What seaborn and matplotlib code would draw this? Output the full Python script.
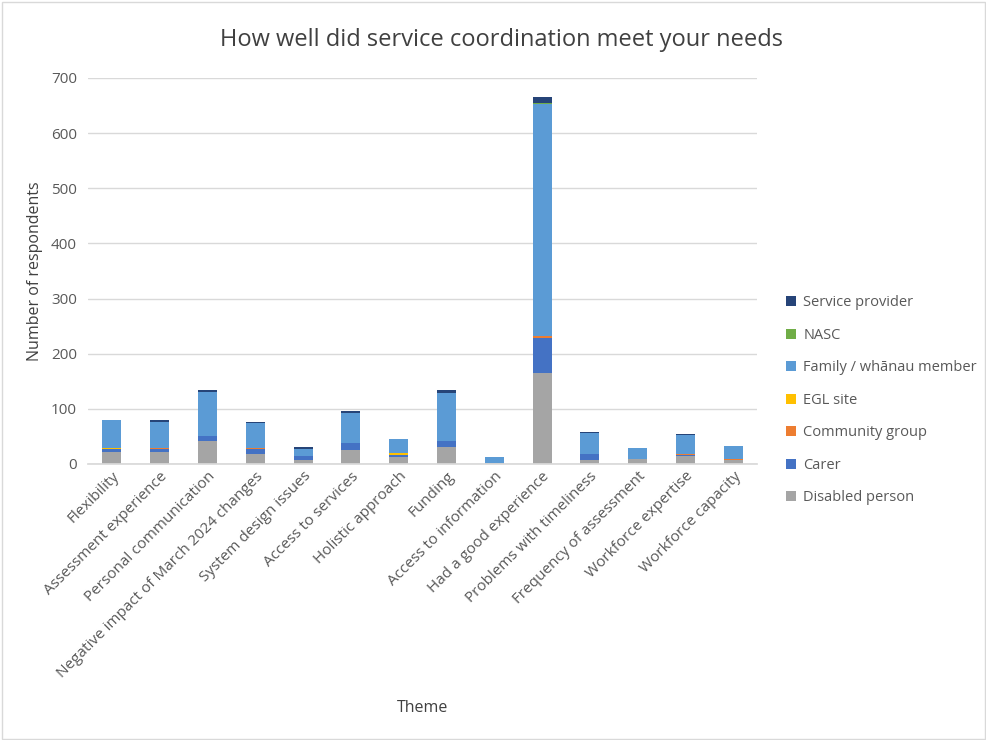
import matplotlib
matplotlib.use("Agg")
import matplotlib.pyplot as plt
import numpy as np
import pandas as pd
import seaborn as sns
from matplotlib.patches import Rectangle, Patch

themes = [
    "Flexibility", "Assessment experience", "Personal communication",
    "Negative impact of March 2024 changes", "System design issues",
    "Access to services", "Holistic approach", "Funding",
    "Access to information", "Had a good experience",
    "Problems with timeliness", "Frequency of assessment",
    "Workforce expertise", "Workforce capacity",
]

disabled_person = [22, 21, 41, 18, 8, 26, 13, 30, 1, 165, 8, 9, 14, 8]
carer = [6, 6, 10, 9, 6, 12, 4, 11, 0, 64, 10, 0, 3, 0]
community_group = [0, 2, 0, 2, 0, 0, 0, 0, 0, 4, 0, 0, 2, 1]
egl_site = [1, 0, 0, 0, 0, 0, 3, 0, 0, 0, 0, 0, 0, 0]
family_whanau = [50, 47, 79, 45, 13, 55, 25, 88, 11, 419, 39, 20, 34, 23]
nasc = [0, 0, 0, 0, 0, 0, 0, 0, 0, 3, 0, 0, 0, 0]
service_provider = [1, 3, 4, 2, 3, 3, 1, 6, 0, 10, 1, 0, 2, 1]

series_names = ["Disabled person", "Carer", "Community group", "EGL site",
                "Family / whānau member", "NASC", "Service provider"]
series_values = [disabled_person, carer, community_group, egl_site,
                 family_whanau, nasc, service_provider]
series_colors = ["#A5A5A5", "#4472C4", "#ED7D31", "#FFC000",
                 "#5B9BD5", "#70AD47", "#264478"]

df = pd.DataFrame({"Theme": themes})
for name, vals in zip(series_names, series_values):
    df[name] = vals

sns.set_theme(style="white")
plt.rcParams["font.family"] = ["Open Sans", "DejaVu Sans"]

fig = plt.figure(figsize=(9.87, 7.40), dpi=100)
ax = fig.add_axes([0.0892, 0.373, 0.678, 0.5216])

# stacked bars: draw cumulative totals from the top series down
cum = df[series_names].cumsum(axis=1)
for name, color in reversed(list(zip(series_names, series_colors))):
    sns.barplot(x=df["Theme"], y=cum[name], color=color, width=0.4,
                ax=ax, saturation=1, errorbar=None, order=themes,
                linewidth=0, edgecolor="none")

ax.set_ylim(0, 700)
ax.set_yticks(np.arange(0, 701, 100))
ax.yaxis.grid(True, color="#D9D9D9", linewidth=1)
ax.set_axisbelow(True)
for s in ["top", "right", "left"]:
    ax.spines[s].set_visible(False)
ax.spines["bottom"].set_color("#D9D9D9")
ax.tick_params(axis="both", length=0, colors="#595959", labelsize=11)
ax.tick_params(axis="y", pad=8)
ax.set_xticks(range(len(themes)))
ax.set_xticklabels(themes, rotation=45, ha="right", rotation_mode="anchor")
ax.set_xlim(-0.5, len(themes) - 0.5)

ax.set_ylabel("Number of respondents", fontsize=11.5, color="#404040",
              labelpad=6)
ax.set_xlabel("")
fig.text(0.4285, 0.043, "Theme", ha="center", va="center",
         fontsize=11.5, color="#404040")
fig.text(0.508, 0.946, "How well did service coordination meet your needs",
         ha="center", va="center", fontsize=17, color="#404040")

handles = [Patch(facecolor=c, edgecolor="none")
           for c in reversed(series_colors)]
leg = fig.legend(handles, list(reversed(series_names)), loc="center left",
                 bbox_to_anchor=(0.783, 0.459), frameon=False, fontsize=10.5,
                 handlelength=0.7, handleheight=0.7, handletextpad=0.5,
                 labelspacing=1.2, labelcolor="#595959")

fig.patches.append(Rectangle((0.002, 0.002), 0.996, 0.995,
                             transform=fig.transFigure, fill=False,
                             edgecolor="#D9D9D9", linewidth=1))

fig.savefig("out.png", dpi=100)
